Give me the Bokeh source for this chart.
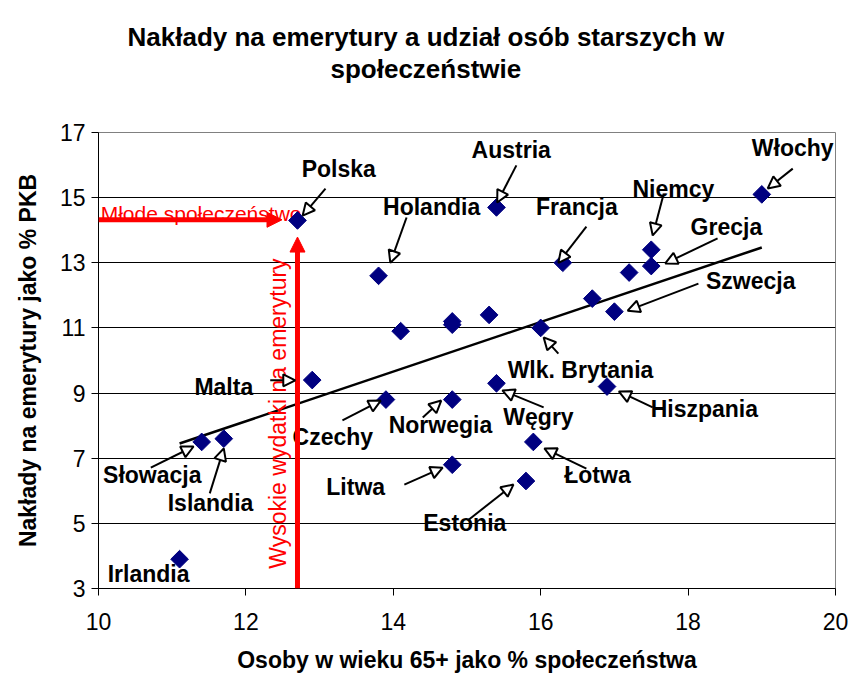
import numpy as np
from bokeh.plotting import figure
from bokeh.models import ColumnDataSource, Arrow, NormalHead, Title, FixedTicker, Range1d
from bokeh.core.properties import value
from bokeh.embed import file_html
from bokeh.resources import INLINE

# ---- data ----
age65 = [12.7, 15.4, 13.8, 16.3, 19.0, 17.5, 17.5, 17.2, 17.0, 16.7, 16.0, 14.1, 14.8,
         14.8, 15.3, 12.9, 11.4, 11.7, 11.1, 13.9, 14.8, 15.4, 15.9, 14.8, 15.8, 16.9]
pension = [14.3, 14.7, 12.6, 13.0, 15.1, 13.4, 12.9, 12.7, 11.5, 11.9, 11.0, 10.9, 11.2,
           11.1, 11.4, 9.4, 7.5, 7.6, 3.9, 8.8, 8.8, 9.3, 7.5, 6.8, 6.3, 9.2]
trend_x = [11.1, 19.0]
trend_y = [7.45, 13.47]
x_ticks = [10, 12, 14, 16, 18, 20]
y_ticks = [3, 5, 7, 9, 11, 13, 15, 17]

title_1 = "Nakłady na emerytury a udział osób starszych w"
title_2 = "społeczeństwie"
x_title = "Osoby w wieku 65+ jako % społeczeństwa"
y_title = "Nakłady na emerytury jako % PKB"

# country labels: text, label position, arrow start, arrow end
label_text = ["Polska", "Austria", "Holandia", "Francja", "Włochy", "Niemcy", "Grecja",
              "Szwecja", "Wlk. Brytania", "Hiszpania", "Węgry", "Łotwa", "Estonia",
              "Litwa", "Norwegia", "Czechy", "Malta", "Słowacja", "Islandia", "Irlandia"]
label_x = [13.26, 15.60, 14.52, 16.49, 19.42, 17.80, 18.52, 18.85, 16.54, 18.22, 15.97,
           16.77, 14.97, 13.49, 14.64, 13.18, 11.70, 10.73, 11.52, 10.68]
label_y = [15.89, 16.45, 14.70, 14.70, 16.51, 15.28, 14.11, 12.43, 9.72, 8.50, 8.28,
           6.50, 5.00, 6.13, 8.03, 7.64, 9.20, 6.47, 5.64, 3.46]
arrow_x0 = [13.08, 15.67, 14.18, 16.62, 19.42, 17.67, 18.40, 18.14, 16.24, 17.52, 16.04,
            16.62, 15.01, 14.15, 14.40, 13.31, 12.33, 10.71, 11.51]
arrow_y0 = [15.28, 15.99, 14.39, 14.11, 15.89, 15.13, 13.75, 12.36, 10.21, 8.56, 8.56,
            6.68, 5.09, 6.19, 8.25, 8.16, 9.39, 6.71, 5.92]
arrow_x1 = [12.77, 15.41, 13.96, 16.24, 19.08, 17.52, 17.69, 17.18, 16.04, 17.06, 15.48,
            16.05, 15.63, 14.67, 14.65, 13.83, 12.67, 11.29, 11.70]
arrow_y1 = [14.45, 14.85, 13.00, 13.00, 15.28, 13.84, 12.98, 11.53, 10.71, 9.05, 9.08,
            7.30, 6.19, 6.71, 8.77, 8.77, 9.39, 7.36, 7.30]

# red annotations
young_text = "Młode społeczeństwo"
high_text = "Wysokie wydatki na emerytury"
young_arrow = dict(x0=10.0, y0=14.32, x1=12.49, y1=14.32)
high_arrow = dict(x0=12.7, y0=3.0, x1=12.7, y1=13.79)

FONT = "Liberation Sans"

p = figure(width=851, height=676, output_backend="svg", toolbar_location=None,
           x_range=Range1d(10, 20), y_range=Range1d(3, 17),
           min_border_left=98, min_border_right=16, min_border_top=132, min_border_bottom=88)

p.background_fill_color = "white"
p.border_fill_color = "white"
p.outline_line_color = "#808080"
p.outline_line_width = 1

# two-line title (a blank spacer title keeps the gap above the plot area)
spacer = Title(text=" ", align="left", text_font=FONT, text_font_size="26px", standoff=17)
t2 = Title(text=title_2, align="left", offset=232, text_font=FONT, text_font_size="26px",
           text_font_style="bold", text_color="black", standoff=0)
t1 = Title(text=title_1, align="left", offset=29, text_font=FONT, text_font_size="26px",
           text_font_style="bold", text_color="black", standoff=0)
p.add_layout(spacer, "above")
p.add_layout(t2, "above")
p.add_layout(t1, "above")

# axes
for ax in (p.xaxis[0], p.yaxis[0]):
    ax.axis_line_color = "black"
    ax.axis_line_width = 1
    ax.major_tick_line_color = "black"
    ax.major_tick_in = 0
    ax.major_tick_out = 7
    ax.minor_tick_line_color = None
    ax.major_label_text_font = FONT
    ax.major_label_text_font_size = "23px"
    ax.major_label_text_color = "black"
    ax.axis_label_text_font = FONT
    ax.axis_label_text_font_size = "23px"
    ax.axis_label_text_font_style = "bold"
    ax.axis_label_text_color = "black"

p.xaxis.ticker = FixedTicker(ticks=x_ticks)
p.yaxis.ticker = FixedTicker(ticks=y_ticks)
p.xaxis.axis_label = x_title
p.yaxis.axis_label = y_title
p.xaxis.major_label_standoff = 17
p.xaxis.axis_label_standoff = 14
p.yaxis.major_label_standoff = 6
p.yaxis.axis_label_standoff = 16

p.xgrid.grid_line_color = None
p.ygrid.ticker = FixedTicker(ticks=y_ticks)
p.ygrid.grid_line_color = "black"
p.ygrid.grid_line_width = 1

# trend line
p.line(trend_x, trend_y, line_color="black", line_width=2.5)

# red arrows and texts
red_head = dict(size=15, fill_color="red", line_color="red", line_width=1)
p.add_layout(Arrow(end=NormalHead(**red_head), x_start=young_arrow["x0"], y_start=young_arrow["y0"],
                   x_end=young_arrow["x1"], y_end=young_arrow["y1"], line_color="red", line_width=5))
p.add_layout(Arrow(end=NormalHead(**red_head), x_start=high_arrow["x0"], y_start=high_arrow["y0"],
                   x_end=high_arrow["x1"], y_end=high_arrow["y1"], line_color="red", line_width=5))
p.text(x=[10.03], y=[14.51], text=[young_text], text_color="red", text_font=value(FONT),
       text_font_size="21px", text_align="left", text_baseline="alphabetic")
p.text(x=[12.43], y=[8.37], text=[high_text], text_color="red", text_font=value(FONT),
       text_font_size="23px", text_align="center", text_baseline="middle", angle=np.pi / 2)

# data points
pts = ColumnDataSource(dict(x=age65, y=pension))
p.scatter("x", "y", source=pts, marker="square", size=12.5, angle=np.pi / 4,
          fill_color="#000080", line_color="#000080")

# country labels and arrows
arr_src = ColumnDataSource(dict(x0=arrow_x0, y0=arrow_y0, x1=arrow_x1, y1=arrow_y1))
p.add_layout(Arrow(end=NormalHead(size=12, fill_color="white", line_color="black", line_width=2),
                   source=arr_src, x_start="x0", y_start="y0", x_end="x1", y_end="y1",
                   line_color="black", line_width=2))
lab_src = ColumnDataSource(dict(x=label_x, y=label_y, t=label_text))
p.text("x", "y", text="t", source=lab_src, text_color="black", text_font=value(FONT),
       text_font_size="23px", text_font_style="bold", text_align="center", text_baseline="middle")

open("out.html", "w").write(file_html(p, INLINE))
